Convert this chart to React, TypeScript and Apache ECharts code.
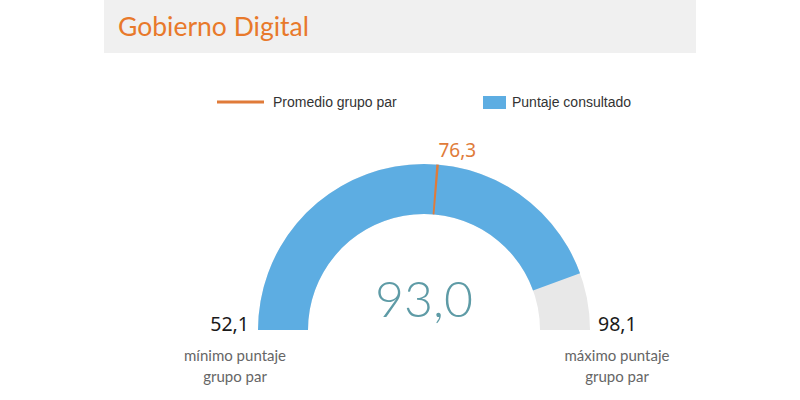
import React, { useEffect, useRef } from "react";
import * as echarts from "echarts";

const TITLE = "Gobierno Digital";
const LEGEND_NAMES = ["Promedio grupo par", "Puntaje consultado"];
const MIN_VALUE = 52.1;
const MAX_VALUE = 98.1;
const SCORE = 93.0;
const GROUP_AVG = 76.3;
const MIN_LABEL = ["mínimo puntaje", "grupo par"];
const MAX_LABEL = ["máximo puntaje", "grupo par"];

const BLUE = "#5DADE2";
const GREY = "#E8E8E8";
const ORANGE = "#E07B39";

const fmt = (v: number) => v.toFixed(1).replace(".", ",");

export default function App() {
  const ref = useRef<HTMLDivElement>(null);
  useEffect(() => {
    if (!ref.current) return;
    const chart = echarts.init(ref.current, undefined, { renderer: "svg" });
    const cx = 424;
    const cy = 330;
    const R = 166;
    const W = 50;
    const p = (GROUP_AVG - MIN_VALUE) / (MAX_VALUE - MIN_VALUE);
    const theta = Math.PI * (1 - p);
    const half = 0.0024;
    const labR = R + 8;
    const avgOffset = [labR * Math.cos(theta) + 19, -labR * Math.sin(theta) - 7];

    chart.setOption({
      animation: false,
      graphic: [
        { type: "rect", shape: { x: 104, y: 0, width: 592, height: 53 }, style: { fill: "#F0F0F0" } },
        {
          type: "text",
          x: 118,
          y: 26,
          style: { text: TITLE, fill: "#E8792B", font: "26.5px Lato", verticalAlign: "middle" },
        },
        { type: "line", shape: { x1: 217, y1: 102, x2: 264, y2: 102 }, style: { stroke: ORANGE, lineWidth: 3 } },
        {
          type: "text",
          x: 273,
          y: 102,
          style: { text: LEGEND_NAMES[0], fill: "#333", font: "14px 'Liberation Sans'", verticalAlign: "middle" },
        },
        { type: "rect", shape: { x: 483, y: 96, width: 23, height: 13 }, style: { fill: BLUE } },
        {
          type: "text",
          x: 512,
          y: 102,
          style: { text: LEGEND_NAMES[1], fill: "#333", font: "14px 'Liberation Sans'", verticalAlign: "middle" },
        },
        {
          type: "text",
          x: cx - R - 9,
          y: cy - 7,
          style: { text: fmt(MIN_VALUE), fill: "#1A1A1A", font: "19.5px 'Noto Sans'", align: "right", verticalAlign: "middle" },
        },
        {
          type: "text",
          x: cx + R + 8,
          y: cy - 7,
          style: { text: fmt(MAX_VALUE), fill: "#1A1A1A", font: "19.5px 'Noto Sans'", align: "left", verticalAlign: "middle" },
        },
        {
          type: "text",
          x: 235,
          y: 344,
          style: { text: MIN_LABEL.join("\n"), fill: "#666", font: "15px Lato", align: "center", lineHeight: 21 },
        },
        {
          type: "text",
          x: 617,
          y: 344,
          style: { text: MAX_LABEL.join("\n"), fill: "#666", font: "15px Lato", align: "center", lineHeight: 21 },
        },
      ],
      series: [
        {
          type: "gauge",
          z: 2,
          center: [cx, cy],
          radius: R,
          startAngle: 180,
          endAngle: 0,
          min: MIN_VALUE,
          max: MAX_VALUE,
          axisLine: { lineStyle: { width: W, color: [[1, GREY]] } },
          progress: { show: true, width: W, itemStyle: { color: BLUE } },
          pointer: { show: false },
          axisTick: { show: false },
          splitLine: { show: false },
          axisLabel: { show: false },
          title: { show: false },
          detail: {
            offsetCenter: [0, -32],
            fontSize: 50,
            fontFamily: "Lato",
            fontWeight: 300,
            color: "#5E9BA6",
            formatter: (v: number) => fmt(v),
          },
          data: [{ value: SCORE }],
        },
        {
          type: "gauge",
          z: 6,
          center: [cx, cy],
          radius: R,
          startAngle: 180,
          endAngle: 0,
          min: MIN_VALUE,
          max: MAX_VALUE,
          axisLine: {
            lineStyle: {
              width: W,
              color: [
                [p - half, "rgba(255,255,255,0)"],
                [p + half, ORANGE],
                [1, "rgba(255,255,255,0)"],
              ],
            },
          },
          pointer: { show: false },
          axisTick: { show: false },
          splitLine: { show: false },
          axisLabel: { show: false },
          title: { show: false },
          detail: {
            offsetCenter: avgOffset,
            fontSize: 19,
            fontWeight: "normal",
            fontFamily: "Noto Sans",
            color: ORANGE,
            formatter: () => fmt(GROUP_AVG),
          },
          data: [{ value: GROUP_AVG }],
        },
      ],
    });
    return () => chart.dispose();
  }, []);
  return (
    <div
      ref={ref}
      style={{ position: "fixed", left: 0, top: 0, width: 800, height: 400, background: "#fff" }}
    />
  );
}
